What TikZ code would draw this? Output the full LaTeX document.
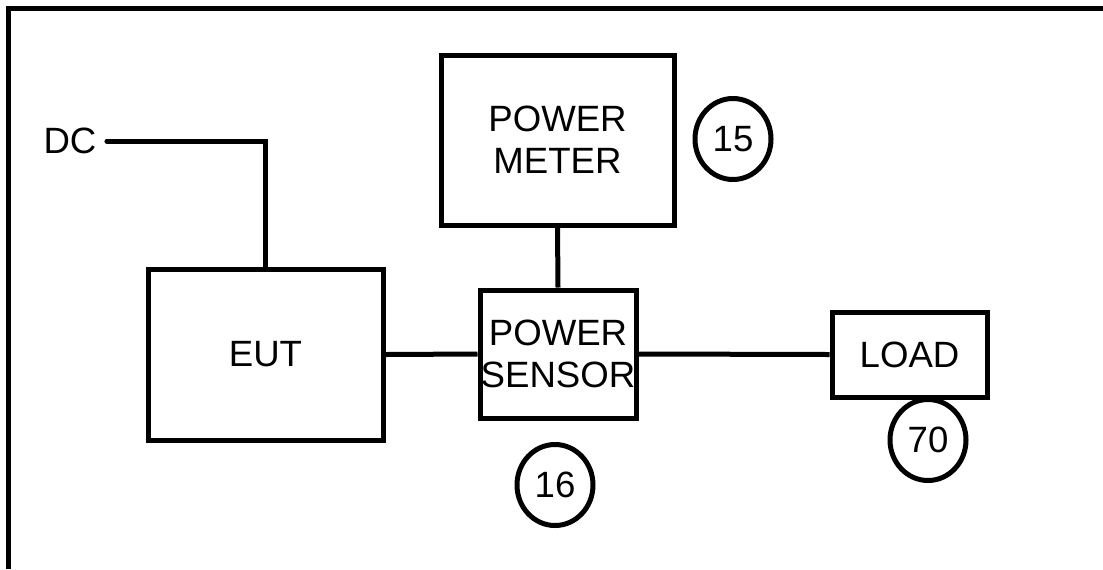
\documentclass[tikz,border=0pt]{standalone}
\usepackage{fontspec}
\setmainfont{Liberation Sans}
\usetikzlibrary{shapes.geometric}

\begin{document}
\begin{tikzpicture}[x=0.5pt,y=-0.5pt,line width=2.5pt,
    font=\fontsize{18.3}{20.8}\selectfont,
    block/.style={draw,rectangle,inner sep=0pt,align=center},
    tag/.style={draw,ellipse,inner sep=0pt,minimum width=38pt,minimum height=40.5pt}]
        \useasboundingbox (0,0) rectangle (1103,569);
        \draw (8,569)--(8,8)--(1103,8);
        % blocks
        \node[block,minimum width=117.5pt,minimum height=85.5pt] (eut) at (265.5,354.5) {EUT};
        \node[block,minimum width=78pt,minimum height=64pt] (sensor) at (558,354) {POWER\\SENSOR};
        \node[block,minimum width=116.5pt,minimum height=85pt] (meter) at (557.5,140) {POWER\\METER};
        \node[block,minimum width=77.5pt,minimum height=42.5pt] (load) at (909.5,354.5) {LOAD};
        \node[inner sep=4pt] (dc) at (70,141) {DC};
        % item numbers
        \node[tag] (n15) at (733,139) {15};
        \node[tag] (n16) at (555,485) {16};
        \node[tag] (n70) at (928,440) {70};
        % wiring
        \draw[line cap=round] (dc.east) -| (eut.north);
        \draw (eut.east)--(sensor.west);
        \draw (meter.south)--(sensor.north);
        \draw (sensor.east)--(load.west);
      \end{tikzpicture}
\end{document}
